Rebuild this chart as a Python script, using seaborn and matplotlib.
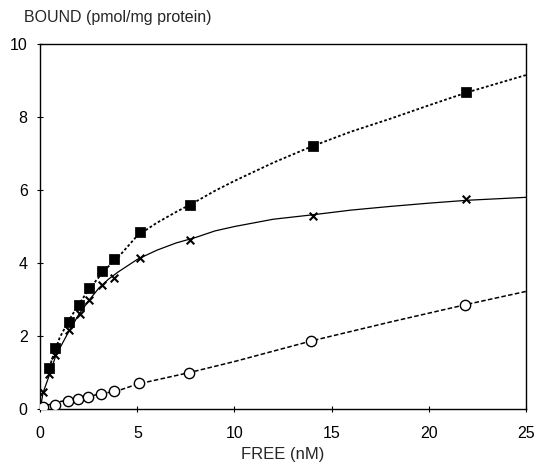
import numpy as np
import pandas as pd
import matplotlib
matplotlib.use('Agg')
import matplotlib.pyplot as plt
import seaborn as sns

total_free = [0.46, 0.77, 1.46, 2.0, 2.49, 3.18, 3.8, 5.15, 7.72, 14.05, 21.9]
total_bound = [1.12, 1.67, 2.38, 2.85, 3.32, 3.78, 4.1, 4.85, 5.59, 7.2, 8.68]

spec_free = [0.14, 0.46, 0.77, 1.46, 2.03, 2.49, 3.18, 3.8, 5.15, 7.7, 14.05, 21.9]
spec_bound = [0.46, 0.96, 1.48, 2.16, 2.6, 3.0, 3.4, 3.6, 4.13, 4.63, 5.3, 5.75]

ns_free = [0.14, 0.77, 1.43, 1.97, 2.46, 3.14, 3.81, 5.1, 7.66, 13.95, 21.85]
ns_bound = [0.05, 0.1, 0.23, 0.27, 0.34, 0.41, 0.49, 0.71, 0.99, 1.87, 2.85]

# fitted curves
total_fit_x = [0.4, 0.6, 1, 1.5, 2, 2.5, 3, 3.5, 4, 5, 6, 7, 8, 9, 10, 12, 14, 16, 18, 20, 22, 25]
total_fit_y = [1.0, 1.35, 1.95, 2.45, 2.88, 3.27, 3.6, 3.9, 4.15, 4.75, 5.1, 5.4, 5.68, 5.98, 6.25, 6.75, 7.2, 7.6, 7.95, 8.32, 8.68, 9.15]

spec_fit_x = [0, 0.15, 0.5, 0.8, 1.5, 2, 2.5, 3, 3.5, 4, 5, 6, 7, 8, 9, 10, 12, 14, 16, 18, 20, 22, 25]
spec_fit_y = [0, 0.45, 0.97, 1.46, 2.15, 2.6, 2.97, 3.3, 3.55, 3.75, 4.1, 4.35, 4.55, 4.7, 4.88, 5.0, 5.2, 5.32, 5.45, 5.55, 5.64, 5.72, 5.8]

ns_fit_x = [0, 1, 2, 3, 4, 5, 7.7, 10, 14, 18, 22, 25]
ns_fit_y = [0.05, 0.2, 0.3, 0.4, 0.5, 0.68, 1.0, 1.3, 1.87, 2.38, 2.87, 3.22]

sns.set_theme(style="ticks")
plt.rcParams['font.family'] = ['Liberation Sans', 'DejaVu Sans']

fig = plt.figure(figsize=(5.36, 4.69), dpi=100)
ax = fig.add_axes([0.075, 0.128, 0.906, 0.778])

sns.lineplot(x=total_fit_x, y=total_fit_y, ax=ax, color='black', lw=1.3,
             linestyle=(0, (1.5, 1.2)), sort=False)
sns.lineplot(x=spec_fit_x, y=spec_fit_y, ax=ax, color='black', lw=0.9, sort=False)
sns.lineplot(x=ns_fit_x, y=ns_fit_y, ax=ax, color='black', lw=1.1,
             linestyle=(0, (3, 1.5)), sort=False)

sns.scatterplot(x=total_free, y=total_bound, ax=ax, marker='s', s=45,
                color='black', edgecolor='black', zorder=5)
sns.scatterplot(x=spec_free, y=spec_bound, ax=ax, marker='x', s=30,
                color='black', linewidth=1.5, zorder=5)
sns.scatterplot(x=ns_free, y=ns_bound, ax=ax, marker='o', s=55,
                facecolor='white', edgecolor='black', linewidth=1.0, zorder=5)

ax.set_xlim(0, 25)
ax.set_ylim(0, 10)
ax.set_xticks([0, 5, 10, 15, 20, 25])
ax.set_yticks([0, 2, 4, 6, 8, 10])
ax.tick_params(direction='inout', length=5, width=0.8, labelsize=11.5, colors='black')
ax.tick_params(axis='x', pad=10)
ax.tick_params(axis='y', pad=6.5)
for sp in ax.spines.values():
    sp.set_color('black')
    sp.set_linewidth(1.0)

ax.set_xlabel('FREE (nM)', fontsize=12, labelpad=4)
ax.set_ylabel('')
fig.text(0.045, 0.962, 'BOUND (pmol/mg protein)', fontsize=11.5, ha='left', va='center')

fig.savefig('out.png', dpi=100)
